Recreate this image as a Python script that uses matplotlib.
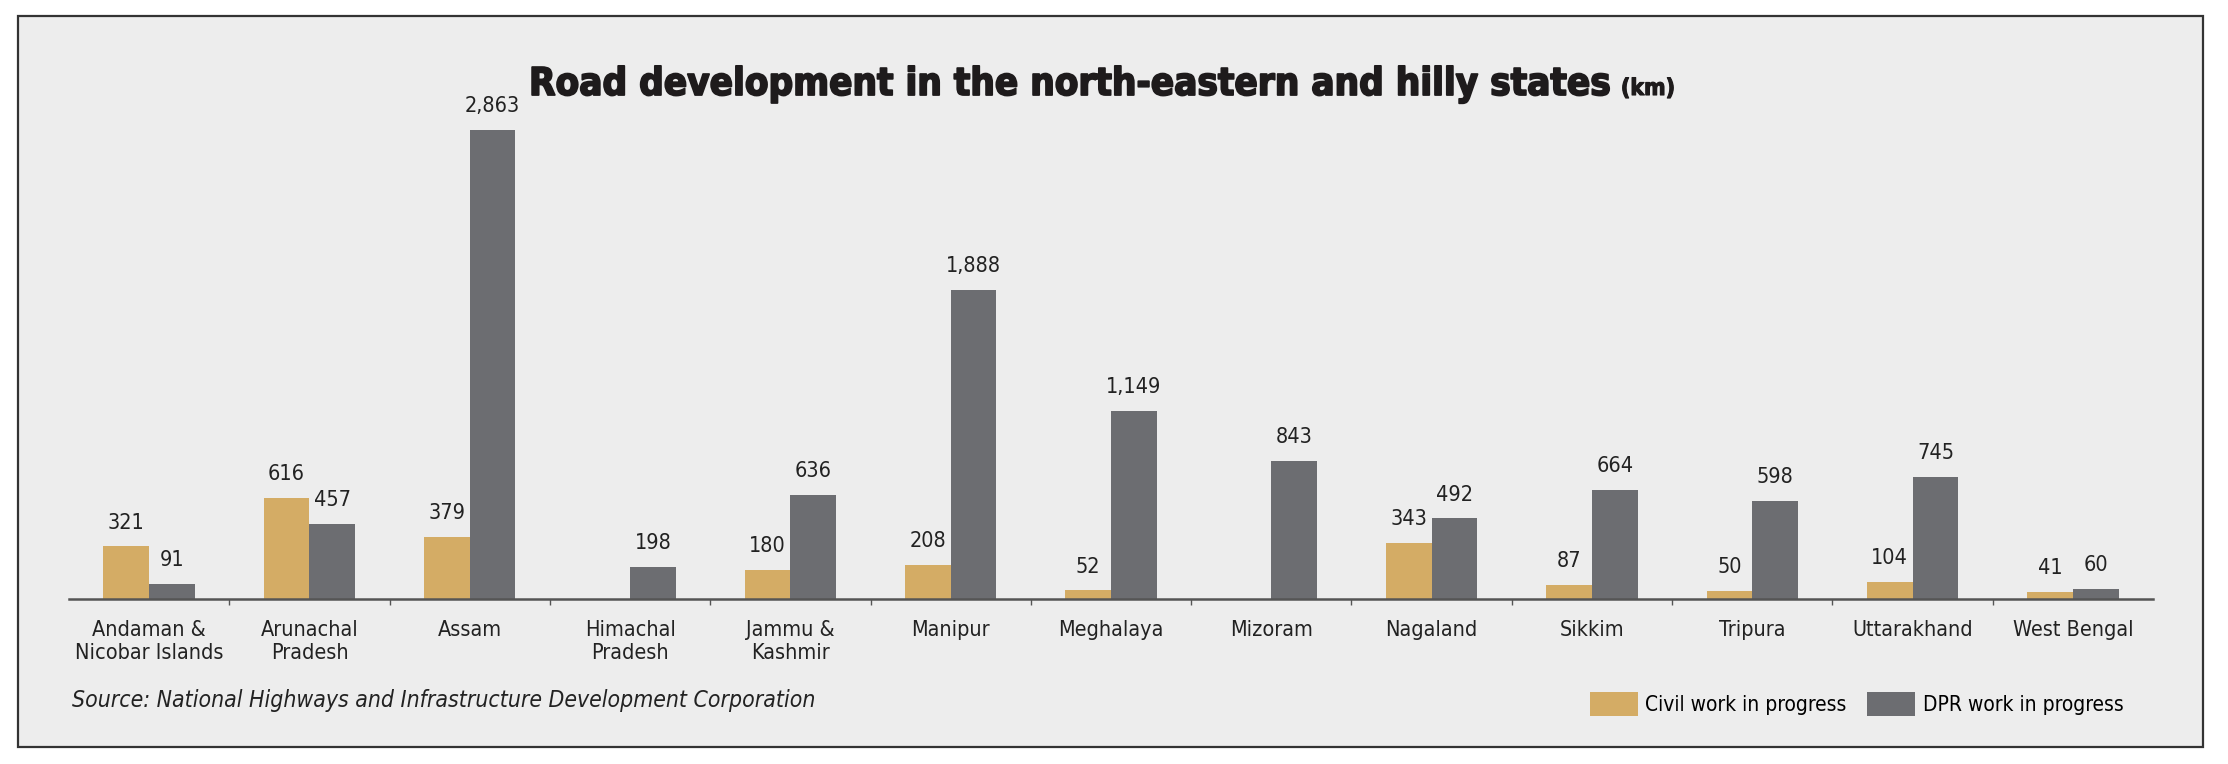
import matplotlib
matplotlib.use('Agg')
import matplotlib.pyplot as plt
import matplotlib.patheffects as pe
from matplotlib.patches import Rectangle, Patch
import numpy as np

# data (km)
states = ['Andaman &\nNicobar Islands', 'Arunachal\nPradesh', 'Assam',
          'Himachal\nPradesh', 'Jammu &\nKashmir', 'Manipur', 'Meghalaya',
          'Mizoram', 'Nagaland', 'Sikkim', 'Tripura', 'Uttarakhand',
          'West Bengal']
civil = [321, 616, 379, None, 180, 208, 52, None, 343, 87, 50, 104, 41]
dpr = [91, 457, 2863, 198, 636, 1888, 1149, 843, 492, 664, 598, 745, 60]

CIVIL_COL = '#D4AC65'
DPR_COL = '#6C6D71'
BG = '#EDEDED'
INK = '#1E1B1C'
NARROW = ['Liberation Sans Narrow', 'DejaVu Sans']
ST = 'condensed'

W, H = 2228, 764
fig = plt.figure(figsize=(W / 100, H / 100), dpi=100)
fig.patch.set_facecolor('white')

# framed grey panel
fig.patches.append(Rectangle((18 / W, 1 - 747 / H), (2203 - 18) / W, (747 - 16) / H,
                             transform=fig.transFigure, facecolor=BG,
                             edgecolor='#333333', linewidth=1.6, zorder=-5))

ax = fig.add_axes([69 / W, 1 - 599 / H, (2153 - 69) / W, 491.4 / H])
ax.set_facecolor('none')
ax.set_zorder(2)

x = np.arange(len(states))
bw = 0.285
civ_vals = [v if v is not None else 0 for v in civil]
ax.bar(x - bw / 2, civ_vals, bw, color=CIVIL_COL)
ax.bar(x + bw / 2, dpr, bw, color=DPR_COL)

for xi, v in zip(x, civil):
    if v is None:
        continue
    ax.annotate(f'{v:,}', (xi - bw / 2, v), xytext=(0, 10), textcoords='offset points',
                ha='center', va='bottom', fontsize=15.5, family=NARROW, stretch=ST,
                color='#222222')
for xi, v in zip(x, dpr):
    ax.annotate(f'{v:,}', (xi + bw / 2, v), xytext=(0, 10), textcoords='offset points',
                ha='center', va='bottom', fontsize=15.5, family=NARROW, stretch=ST,
                color='#222222')

ax.set_xlim(-0.5, len(states) - 0.5)
ax.set_ylim(0, 3000)
for s in ['top', 'right', 'left']:
    ax.spines[s].set_visible(False)
ax.spines['bottom'].set_color('#555555')
ax.spines['bottom'].set_linewidth(1.8)
ax.set_yticks([])
ax.set_xticks(x[:-1] + 0.5, minor=True)
ax.set_xticks(x)
ax.set_xticklabels(states, fontsize=15.5, family=NARROW, stretch=ST, color='#222222',
                   linespacing=1.2)
ax.tick_params(axis='x', which='major', length=0, pad=15)
ax.tick_params(axis='x', which='minor', length=4, width=1, color='#555555')

# title, fitted to the reference width
thick = [pe.withStroke(linewidth=1.3, foreground=INK)]
title = fig.text(529 / W, 1 - 95 / H, 'Road development in the north-eastern and hilly states',
                 ha='left', va='baseline', fontsize=40, fontweight='bold',
                 family=NARROW, stretch=ST, color=INK, path_effects=thick)
fig.canvas.draw()
r = fig.canvas.get_renderer()
tw = title.get_window_extent(r).width
title.set_fontsize(40 * 1080 / tw)
fig.canvas.draw()
ext = title.get_window_extent(r)
fig.text((ext.x1 + 12) / W, 1 - 95 / H, '(km)', ha='left', va='baseline',
         fontsize=title.get_fontsize() * 0.6, fontweight='bold', family=NARROW,
         stretch=ST, color=INK, path_effects=[pe.withStroke(linewidth=0.8, foreground=INK)])

fig.text(72 / W, 1 - 700 / H,
         'Source: National Highways and Infrastructure Development Corporation',
         ha='left', va='center', fontsize=16.5, style='italic', family=NARROW,
         stretch=ST, color='#222222')

handles = [Patch(facecolor=CIVIL_COL), Patch(facecolor=DPR_COL)]
fig.legend(handles, ['Civil work in progress', 'DPR work in progress'],
           loc='center right', bbox_to_anchor=(2142 / W, 1 - 704 / H),
           ncol=2, frameon=False, handlelength=2.3, handleheight=1.4,
           handletextpad=0.35, columnspacing=1.0,
           prop={'family': NARROW, 'size': 15, 'stretch': ST})

fig.savefig('out.png', dpi=100, facecolor=fig.get_facecolor())
